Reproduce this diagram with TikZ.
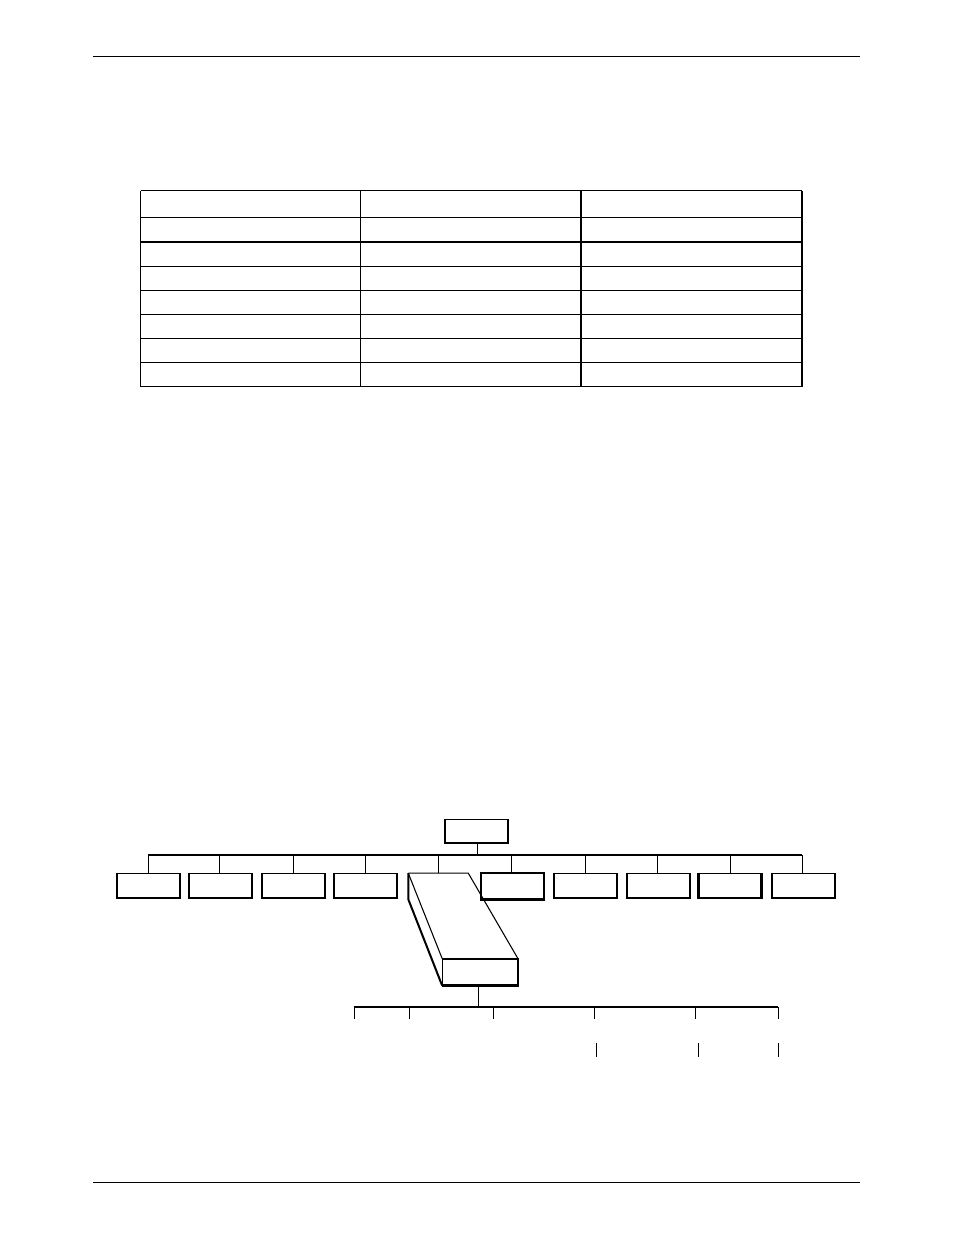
\documentclass[tikz,border=0pt]{standalone}
\begin{document}
\begin{tikzpicture}[x=0.75pt,y=-0.75pt,
  rule/.style={line width=1pt},
  conn/.style={line width=0.8pt},
  cbox/.style={draw,line width=0.8pt,minimum width=46.5pt,minimum height=18pt,inner sep=0pt,fill=white},
  heavy/.style={line width=1.5pt}]
\useasboundingbox (0,0) rectangle (954,1235);
% header and footer rules
\coordinate (hl) at (93,56.3); \coordinate (hr) at (860,56.3);
\coordinate (fl) at (93,1182.3); \coordinate (fr) at (860,1182.3);
\draw[rule] (hl) -- (hr);
\draw[rule] (fl) -- (fr);
% table
\foreach \y in {190.7,217.3,242,266.7,290.7,314.7,338.7,362.7,386.7}
  \draw[rule] (140.5,\y) -- (802,\y);
\foreach \x in {140.5,360.5,581,802}
  \draw[rule] (\x,190.7) -- (\x,386.7);
% top box
\node[cbox,minimum width=46pt,minimum height=17.5pt] (top) at (476.4,831) {};
% second-level boxes
\node[cbox] (b1) at (148.9,885.2) {};
\node[cbox] (b2) at (220.9,885.2) {};
\node[cbox] (b3) at (293.2,885.2) {};
\node[cbox] (b4) at (365.5,885.2) {};
\node[cbox] (b7) at (585.3,885.2) {};
\node[cbox] (b8) at (658.1,885.2) {};
\node[cbox] (b9) at (730.0,885.2) {};
\node[cbox] (b10) at (803.3,885.2) {};
\foreach \b in {top,b1,b2,b3,b4,b7,b8,b9,b10}
  \draw[heavy] (\b.north west) -- (\b.south west) -- (\b.south east) -- (\b.north east);
% bus
\coordinate (busl) at (148.3,855);
\coordinate (busr) at (802.3,855);
\coordinate (bustop) at (477.7,855);
\draw[conn] (busl) -- (busr);
\draw[conn] (top.south -| bustop) -- (bustop);
\foreach \b/\x in {b1/148.3,b2/219.3,b3/293.3,b4/365.3,b6/511.3,b7/585.3,b8/657.3,b9/730.3,b10/802.3}
  \draw[conn] (\x,855) -- (\x,873.2);
% 3D expanded box
\coordinate (tl) at (408.3,873.2);
\coordinate (tr) at (468.3,873.2);
\coordinate (lb) at (408.3,899.3);
\node[draw,line width=0.8pt,minimum width=56pt,minimum height=19.5pt,inner sep=0pt] (f5) at (480,972) {};
\draw[conn] (tl) -- (tr) -- (f5.north east);
\draw[conn] (tl) -- (f5.north west);
\draw[heavy] (tl) -- (lb) -- (f5.south west);
\draw[heavy] (f5.north east) -- (f5.south east) -- (f5.south west);
\coordinate (d5) at (438.3,855);
\draw[conn] (d5) -- (438.3,873.2);
% box 6 (crossed by the 3D box edge)
\node[draw,line width=0.8pt,minimum width=46.5pt,minimum height=19.5pt,inner sep=0pt] (b6) at (512.9,886) {};
\draw[heavy] (b6.north west) -- (b6.south west) -- (b6.south east) -- (b6.north east);
% lower bus
\coordinate (lbus) at (478.3,1007);
\draw[conn] (f5.south -| lbus) -- (lbus);
\draw[conn] (354.3,1007) -- (778.3,1007);
\foreach \x in {354.3,409.3,493.3,594.3,695.7,778.3}
  \draw[conn] (\x,1007) -- (\x,1019.3);
% lower stubs
\foreach \x/\n in {596.3/s1,698.3/s2,778.3/s3}{
  \coordinate (\n a) at (\x,1042.7);
  \coordinate (\n b) at (\x,1056.7);
  \draw[conn] (\n a) -- (\n b);
}
\end{tikzpicture}
\end{document}
